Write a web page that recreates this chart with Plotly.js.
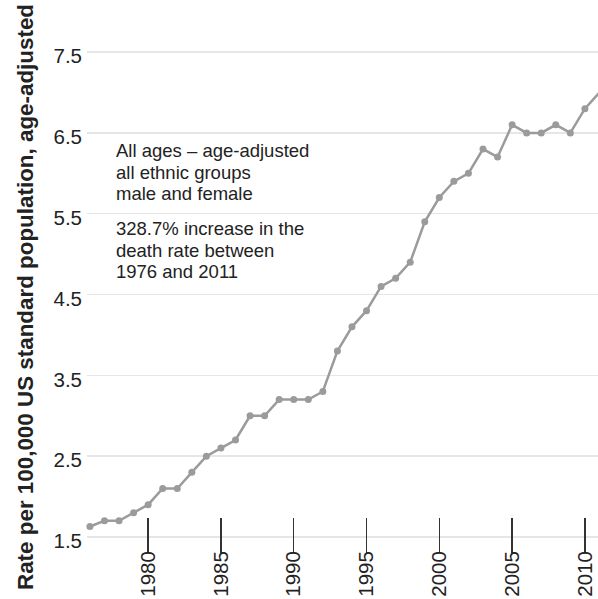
<!DOCTYPE html>
<html>
<head>
<meta charset="utf-8">
<script src="https://cdn.plot.ly/plotly-3.0.1.min.js"></script>
<style>html,body{margin:0;padding:0;background:#fff;}#chart{width:598px;height:599px;}</style>
</head>
<body>
<div id="chart"></div>
<script>
const years = [1976,1977,1978,1979,1980,1981,1982,1983,1984,1985,1986,1987,1988,1989,1990,1991,1992,1993,1994,1995,1996,1997,1998,1999,2000,2001,2002,2003,2004,2005,2006,2007,2008,2009,2010,2011];
const rates = [1.63,1.7,1.7,1.8,1.9,2.1,2.1,2.3,2.5,2.6,2.7,3.0,3.0,3.2,3.2,3.2,3.3,3.8,4.1,4.3,4.6,4.7,4.9,5.4,5.7,5.9,6.0,6.3,6.2,6.6,6.5,6.5,6.6,6.5,6.8,7.0];
const yTicks = [1.5,2.5,3.5,4.5,5.5,6.5,7.5];
const xTicks = [1980,1985,1990,1995,2000,2005,2010];
const yTitle = 'Rate per 100,000 US standard population, age-adjusted';
const noteLines = ['All ages – age-adjusted','all ethnic groups','male and female',
                   '328.7% increase in the','death rate between','1976 and 2011'];

const FONT = 'Liberation Sans, Arial, sans-serif';
const PLOT_H = 553, PLOT_L = 87, PLOT_W = 511;
const noteTops = [137.7, 160.3, 181, 216, 237.7, 259.3];

const trace = {
  x: years, y: rates, type: 'scatter', mode: 'lines+markers',
  line: {color: '#9b9b9b', width: 2.5},
  marker: {color: '#9b9b9b', size: 7},
  cliponaxis: false, hoverinfo: 'skip'
};
const annotations = [
  {text: yTitle, xref: 'paper', yref: 'paper', x: (25-PLOT_L)/PLOT_W, y: (PLOT_H-297)/PLOT_H,
   xanchor: 'center', yanchor: 'middle', textangle: -90, showarrow: false,
   font: {size: 22.4, family: FONT, color: '#222', weight: 'bold'}}
];
noteLines.forEach((t, i) => annotations.push({
  text: t, xref: 'paper', yref: 'paper', x: (114-PLOT_L)/PLOT_W, y: (PLOT_H-noteTops[i])/PLOT_H,
  xanchor: 'left', yanchor: 'top', align: 'left', showarrow: false,
  font: {size: 18.5, family: FONT, color: '#222'}
}));
const layout = {
  width: 598, height: 599,
  margin: {l: PLOT_L, r: 0, t: 0, b: 599-PLOT_H, pad: 0},
  paper_bgcolor: '#fff', plot_bgcolor: '#fff',
  showlegend: false,
  font: {family: FONT, color: '#222'},
  xaxis: {
    range: [1975.8, 2010.9], tickvals: xTicks, ticktext: xTicks.map(String),
    tickangle: -90, ticks: 'inside', ticklen: 35, tickwidth: 1.5, tickcolor: '#333',
    showgrid: false, zeroline: false, showline: false, ticklabelstandoff: -7,
    tickfont: {size: 20.5, family: FONT, color: '#222'}
  },
  yaxis: {
    range: [1.302, 8.144], tickvals: yTicks, ticktext: yTicks.map(v => v.toFixed(1)),
    ticks: '', showgrid: true, gridcolor: '#e6e6e6', gridwidth: 1.5,
    zeroline: false, showline: false, ticklabelshift: 4, ticklabelstandoff: 4,
    tickfont: {size: 20.5, family: FONT, color: '#222'}
  },
  annotations: annotations
};
Plotly.newPlot('chart', [trace], layout, {displayModeBar: false, staticPlot: true});
</script>
</body>
</html>
